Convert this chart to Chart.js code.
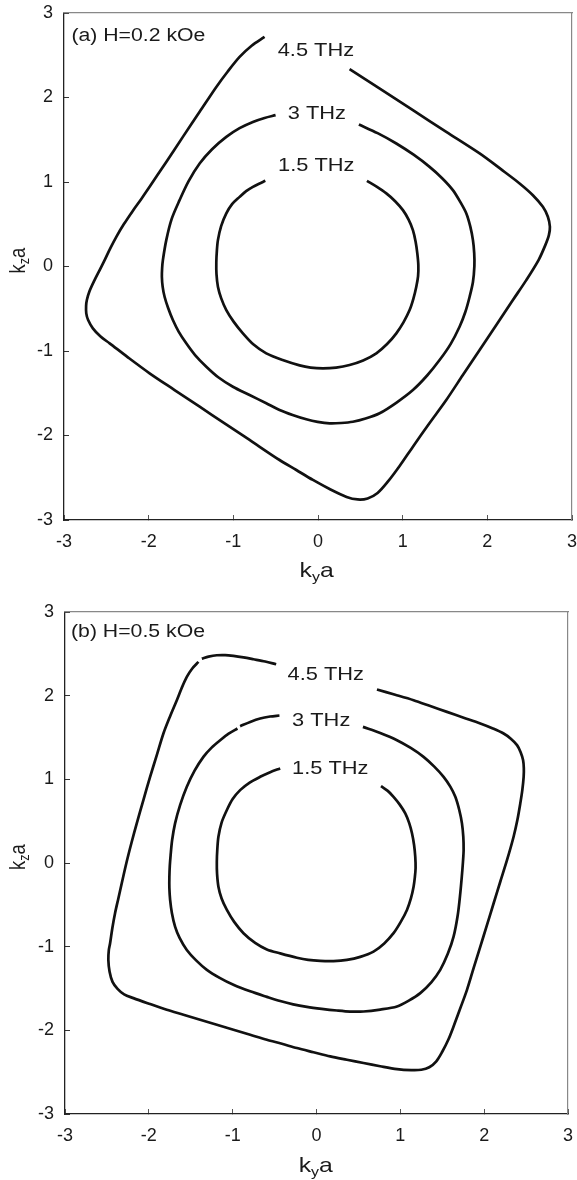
<!DOCTYPE html>
<html><head><meta charset="utf-8">
<script src="https://cdn.jsdelivr.net/npm/chart.js@4.4.0/dist/chart.umd.min.js"></script>
<style>
html,body{margin:0;padding:0;background:#fff;}
#wrap{position:relative;width:577px;height:1180px;overflow:hidden;}
.box{position:absolute;left:0;width:577px;height:590px;}
</style></head><body>
<div id="wrap">
<div class="box" style="top:0"><canvas id="ca"></canvas></div>
<div class="box" style="top:590px"><canvas id="cb"></canvas></div>
</div>
<script>
// ---- data ----
const tickValues = [-3, -2, -1, 0, 1, 2, 3];
const tickLabels = ['-3', '-2', '-1', '0', '1', '2', '3'];
const contourLabels = ['4.5 THz', '3 THz', '1.5 THz'];
const panelTitles = ['(a) H=0.2 kOe', '(b) H=0.5 kOe'];

// panel (a) H=0.2 kOe, iso-frequency contours [kya, kza]
const curveA45 = [[0.373,2.335],[0.739,2.098],[1.121,1.850],[1.515,1.593],[1.909,1.338],[2.168,1.146],[2.381,0.983],[2.538,0.844],[2.656,0.706],[2.715,0.588],[2.739,0.470],[2.727,0.371],[2.685,0.253],[2.605,0.076],[2.460,-0.161],[2.302,-0.397],[2.106,-0.693],[1.909,-0.989],[1.711,-1.284],[1.515,-1.580],[1.318,-1.852],[1.121,-2.132],[0.964,-2.361],[0.822,-2.550],[0.704,-2.680],[0.586,-2.745],[0.468,-2.757],[0.338,-2.727],[0.137,-2.633],[-0.060,-2.526],[-0.256,-2.408],[-0.454,-2.290],[-0.808,-2.053],[-1.103,-1.856],[-1.398,-1.659],[-1.694,-1.462],[-1.989,-1.264],[-2.249,-1.072],[-2.461,-0.909],[-2.568,-0.829],[-2.659,-0.732],[-2.715,-0.634],[-2.737,-0.555],[-2.739,-0.468],[-2.730,-0.397],[-2.698,-0.291],[-2.639,-0.161],[-2.579,-0.043],[-2.520,0.076],[-2.455,0.212],[-2.382,0.351],[-2.296,0.496],[-2.190,0.655],[-2.089,0.797],[-1.989,0.943],[-1.792,1.238],[-1.596,1.534],[-1.398,1.830],[-1.201,2.125],[-1.068,2.305],[-0.926,2.480],[-0.784,2.613],[-0.631,2.717]];
const curveA30 = [[0.483,1.681],[0.704,1.578],[0.925,1.456],[1.129,1.323],[1.318,1.179],[1.466,1.045],[1.593,0.904],[1.678,0.768],[1.752,0.628],[1.799,0.472],[1.830,0.312],[1.845,0.158],[1.847,0.005],[1.830,-0.184],[1.791,-0.358],[1.740,-0.539],[1.672,-0.713],[1.566,-0.918],[1.436,-1.107],[1.289,-1.290],[1.121,-1.462],[0.928,-1.610],[0.728,-1.737],[0.562,-1.799],[0.412,-1.837],[0.273,-1.852],[0.137,-1.856],[-0.005,-1.838],[-0.138,-1.808],[-0.300,-1.757],[-0.454,-1.698],[-0.611,-1.619],[-0.808,-1.521],[-1.005,-1.423],[-1.174,-1.314],[-1.319,-1.186],[-1.452,-1.048],[-1.556,-0.909],[-1.646,-0.770],[-1.714,-0.634],[-1.770,-0.492],[-1.812,-0.358],[-1.835,-0.238],[-1.844,-0.122],[-1.841,-0.019],[-1.832,0.076],[-1.792,0.312],[-1.729,0.561],[-1.635,0.785],[-1.528,1.010],[-1.398,1.219],[-1.251,1.388],[-1.083,1.534],[-0.926,1.637],[-0.769,1.711],[-0.631,1.758],[-0.501,1.791]];
const curveA15 = [[0.578,1.014],[0.692,0.945],[0.807,0.865],[0.911,0.773],[1.003,0.667],[1.070,0.555],[1.121,0.431],[1.153,0.294],[1.173,0.155],[1.185,0.017],[1.182,-0.114],[1.161,-0.240],[1.127,-0.380],[1.082,-0.516],[1.011,-0.658],[0.925,-0.791],[0.816,-0.918],[0.689,-1.028],[0.533,-1.113],[0.373,-1.166],[0.214,-1.196],[0.058,-1.205],[-0.087,-1.196],[-0.217,-1.170],[-0.418,-1.107],[-0.611,-1.028],[-0.761,-0.924],[-0.887,-0.791],[-0.997,-0.652],[-1.083,-0.516],[-1.144,-0.374],[-1.182,-0.240],[-1.199,-0.090],[-1.201,0.052],[-1.194,0.194],[-1.182,0.312],[-1.144,0.478],[-1.083,0.628],[-1.015,0.738],[-0.926,0.824],[-0.849,0.892],[-0.769,0.943],[-0.696,0.980],[-0.622,1.014]];

// panel (b) H=0.5 kOe (null = small break in the contour)
const curveB45 = [[0.721,2.073],[0.939,2.011],[1.158,1.946],[1.357,1.876],[1.556,1.806],[1.755,1.737],[1.954,1.668],[2.097,1.611],[2.232,1.548],[2.318,1.486],[2.392,1.409],[2.435,1.325],[2.464,1.230],[2.473,1.134],[2.471,1.030],[2.455,0.871],[2.431,0.713],[2.396,0.513],[2.351,0.314],[2.273,0.036],[2.193,-0.221],[2.113,-0.481],[2.034,-0.740],[1.954,-0.999],[1.874,-1.257],[1.795,-1.516],[1.715,-1.737],[1.635,-1.954],[1.572,-2.113],[1.500,-2.256],[1.429,-2.370],[1.345,-2.441],[1.250,-2.471],[1.130,-2.475],[0.960,-2.463],[0.760,-2.429],[0.561,-2.391],[0.363,-2.352],[0.164,-2.312],[-0.036,-2.262],[-0.234,-2.212],[-0.413,-2.161],[-0.592,-2.113],[-0.791,-2.053],[-0.991,-1.993],[-1.189,-1.934],[-1.388,-1.874],[-1.587,-1.814],[-1.786,-1.755],[-1.985,-1.686],[-2.184,-1.615],[-2.295,-1.570],[-2.373,-1.504],[-2.433,-1.420],[-2.468,-1.301],[-2.483,-1.158],[-2.477,-1.039],[-2.462,-0.959],[-2.435,-0.776],[-2.403,-0.600],[-2.363,-0.421],[-2.323,-0.242],[-2.265,0.012],[-2.206,0.245],[-2.144,0.474],[-2.065,0.752],[-1.985,1.030],[-1.905,1.289],[-1.826,1.548],[-1.746,1.755],[-1.666,1.946],[-1.609,2.089],[-1.547,2.224],[-1.484,2.322],[-1.408,2.403],null,[-1.368,2.443],[-1.287,2.467],[-1.189,2.483],[-1.090,2.485],[-0.991,2.475],[-0.871,2.457],[-0.752,2.435],[-0.612,2.408],[-0.481,2.375]];
const curveB30 = [[0.554,1.627],[0.760,1.554],[0.960,1.468],[1.124,1.375],[1.277,1.269],[1.405,1.152],[1.516,1.030],[1.596,0.913],[1.656,0.791],[1.703,0.633],[1.735,0.474],[1.751,0.316],[1.755,0.155],[1.747,0.012],[1.733,-0.167],[1.715,-0.362],[1.685,-0.621],[1.635,-0.880],[1.566,-1.086],[1.476,-1.277],[1.369,-1.426],[1.238,-1.555],[1.101,-1.645],[0.960,-1.715],[0.760,-1.752],[0.561,-1.775],[0.402,-1.776],[0.243,-1.763],[0.062,-1.743],[-0.115,-1.719],[-0.278,-1.689],[-0.433,-1.650],[-0.592,-1.600],[-0.791,-1.534],[-0.991,-1.456],[-1.155,-1.373],[-1.308,-1.277],[-1.436,-1.164],[-1.547,-1.039],[-1.633,-0.895],[-1.687,-0.760],[-1.725,-0.597],[-1.746,-0.442],[-1.755,-0.298],[-1.755,-0.164],[-1.750,-0.036],[-1.740,0.095],[-1.722,0.275],[-1.687,0.474],[-1.627,0.692],[-1.547,0.911],[-1.454,1.104],[-1.349,1.269],[-1.251,1.379],[-1.149,1.468],[-1.048,1.546],[-0.943,1.608],null,[-0.911,1.635],[-0.791,1.686],[-0.672,1.727],[-0.553,1.751],[-0.442,1.763]];
const curveB15 = [[0.769,0.919],[0.850,0.862],[0.919,0.791],[0.993,0.698],[1.059,0.593],[1.106,0.477],[1.139,0.355],[1.164,0.215],[1.178,0.075],[1.182,-0.060],[1.173,-0.173],[1.158,-0.283],[1.126,-0.424],[1.079,-0.561],[1.005,-0.704],[0.919,-0.839],[0.808,-0.961],[0.680,-1.059],[0.522,-1.122],[0.363,-1.158],[0.203,-1.172],[0.044,-1.170],[-0.099,-1.158],[-0.234,-1.132],[-0.433,-1.080],[-0.592,-1.033],[-0.732,-0.955],[-0.871,-0.839],[-0.982,-0.704],[-1.069,-0.561],[-1.132,-0.424],[-1.170,-0.283],[-1.186,-0.131],[-1.189,0.012],[-1.183,0.167],[-1.170,0.314],[-1.132,0.483],[-1.069,0.633],[-1.000,0.764],[-0.911,0.871],[-0.797,0.961],[-0.672,1.030],[-0.553,1.086],[-0.433,1.130]];

// ---- drawing ----
const FONT = '"Liberation Sans", Arial, Helvetica, sans-serif';
const STRETCH = 1.18;
const INK = '#1a1a1a';

function toPts(arr) { return arr.map(p => p ? {x: p[0], y: p[1]} : {x: null, y: null}); }

function drawRuns(ctx, runs, x, y, opts) {
  ctx.save();
  ctx.translate(x, y);
  ctx.scale(STRETCH, 1);
  if (opts.rotate) ctx.rotate(-Math.PI / 2);
  let total = 0;
  runs.forEach(r => { ctx.font = r.size + 'px ' + FONT; r.w = ctx.measureText(r.t).width; total += r.w; });
  let cx = opts.align === 'center' ? -total / 2 : 0;
  ctx.textAlign = 'left';
  ctx.textBaseline = 'alphabetic';
  ctx.fillStyle = INK;
  runs.forEach(r => { ctx.font = r.size + 'px ' + FONT; ctx.fillText(r.t, cx, r.dy || 0); cx += r.w; });
  ctx.restore();
}

const textPlugin = {
  id: 'panelText',
  afterDraw(chart, args, o) {
    const ctx = chart.ctx, xs = chart.scales.x, ys = chart.scales.y, ca = chart.chartArea;
    o.labels.forEach((l, i) => {
      const px = xs.getPixelForValue(l[0]), py = ys.getPixelForValue(l[1]);
      drawRuns(ctx, [{t: contourLabels[i], size: 18.5}], px, py + 0.36 * 18.5, {align: 'center'});
    });
    drawRuns(ctx, [{t: o.title, size: 18}], ca.left + o.titleDx, ca.top + o.titleDy, {align: 'left'});
    const cxm = (ca.left + ca.right) / 2;
    drawRuns(ctx, [{t: 'k', size: 21}, {t: 'y', size: 13.5, dy: 4}, {t: 'a', size: 21}], cxm + o.xtDx, ca.bottom + o.xtDy, {align: 'center'});
    const cym = (ca.top + ca.bottom) / 2;
    drawRuns(ctx, [{t: 'k', size: 18.5}, {t: 'z', size: 12.5, dy: 3.5}, {t: 'a', size: 18.5}], o.ytX, cym + o.ytDy, {align: 'center', rotate: true});
  }
};

function buildChart(id, cfg) {
  const zeroPad = s => { s.paddingLeft = 0; s.paddingRight = 0; s.paddingTop = 0; s.paddingBottom = 0; };
  const fixH = h => s => { s.height = h; zeroPad(s); };
  const fixW = w => s => { s.width = w; zeroPad(s); };
  const setTicks = s => { s.ticks = tickValues.map(v => ({value: v})); };
  return new Chart(document.getElementById(id), {
    type: 'scatter',
    data: {
      datasets: cfg.curves.map(c => ({
        data: toPts(c), showLine: true, borderColor: '#111', borderWidth: 2.7,
        pointRadius: 0, pointHoverRadius: 0, tension: 0.3, fill: false, spanGaps: false,
        borderJoinStyle: 'round'
      }))
    },
    options: {
      responsive: true, maintainAspectRatio: false, animation: false, events: [],
      layout: {padding: 0, autoPadding: false},
      plugins: {
        legend: {display: false}, tooltip: {enabled: false},
        panelText: cfg.text
      },
      scales: {
        x: {
          type: 'linear', position: 'bottom', min: -3, max: 3,
          afterBuildTicks: setTicks,
          ticks: {color: INK, font: {family: FONT, size: 18}, padding: 16, maxRotation: 0,
                  callback: (v, i) => tickLabels[i]},
          grid: {drawOnChartArea: false, drawTicks: true, tickLength: -5, color: '#555', lineWidth: 1},
          border: {display: true, color: '#222', width: 1.3},
          afterFit: fixH(cfg.bottom)
        },
        y: {
          type: 'linear', position: 'left', min: -3, max: 3,
          afterBuildTicks: setTicks,
          ticks: {color: INK, font: {family: FONT, size: 18}, padding: 16,
                  callback: (v, i) => tickLabels[i]},
          grid: {drawOnChartArea: false, drawTicks: true, tickLength: -5, color: '#333', lineWidth: 1},
          border: {display: true, color: '#222', width: 1.3},
          afterFit: fixW(cfg.left)
        },
        x2: {
          type: 'linear', position: 'top', min: -3, max: 3,
          ticks: {display: false},
          grid: {drawOnChartArea: false, drawTicks: false},
          border: {display: true, color: '#888', width: 1.2},
          afterFit: fixH(cfg.top)
        },
        y2: {
          type: 'linear', position: 'right', min: -3, max: 3,
          ticks: {display: false},
          grid: {drawOnChartArea: false, drawTicks: false},
          border: {display: true, color: '#888', width: 1.2},
          afterFit: fixW(cfg.right)
        }
      }
    },
    plugins: [textPlugin]
  });
}

buildChart('ca', {
  curves: [curveA45, curveA30, curveA15],
  left: 64, right: 5, top: 13, bottom: 70,
  text: {
    labels: [[-0.025, 2.568], [-0.014, 1.824], [-0.020, 1.209]],
    title: panelTitles[0], titleDx: 7.4, titleDy: 28.3,
    xtDx: -1.4, xtDy: 57, ytX: 25, ytDy: -6
  }
});
buildChart('cb', {
  curves: [curveB45, curveB30, curveB15],
  left: 65, right: 9, top: 22, bottom: 66,
  text: {
    labels: [[0.110, 2.262], [0.056, 1.715], [0.164, 1.138]],
    title: panelTitles[1], titleDx: 6, titleDy: 25,
    xtDx: -0.8, xtDy: 57.7, ytX: 25, ytDy: -6
  }
});
</script>
</body></html>
